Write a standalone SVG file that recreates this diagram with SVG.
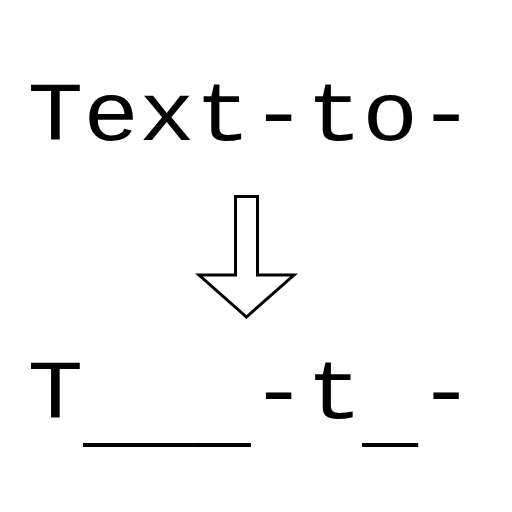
<svg xmlns="http://www.w3.org/2000/svg" width="512" height="512" viewBox="0 0 512 512">
<style>
.t{font-family:"Liberation Mono","Courier New",monospace;font-size:93px;fill:#000}
.a{fill:#fff;stroke:#000;stroke-width:3;stroke-linejoin:miter}
</style>
<rect width="512" height="512" fill="#fff"/>
<g id="top"><text class="t" transform="translate(27.5,140) scale(1,0.9)" x="0" y="0">Text-to-</text></g>
<g id="connectors"><polygon class="a" points="235.5,196.5 257.5,196.5 257.5,275 294,275 246.5,317 199,275 235.5,275"/></g>
<g id="bottom"><text class="t" transform="translate(27.5,418) scale(1,0.9)" x="0" y="0">T<tspan dy="22">___</tspan><tspan dy="-22">-t</tspan><tspan dy="22">_</tspan><tspan dy="-22">-</tspan></text></g>
</svg>
